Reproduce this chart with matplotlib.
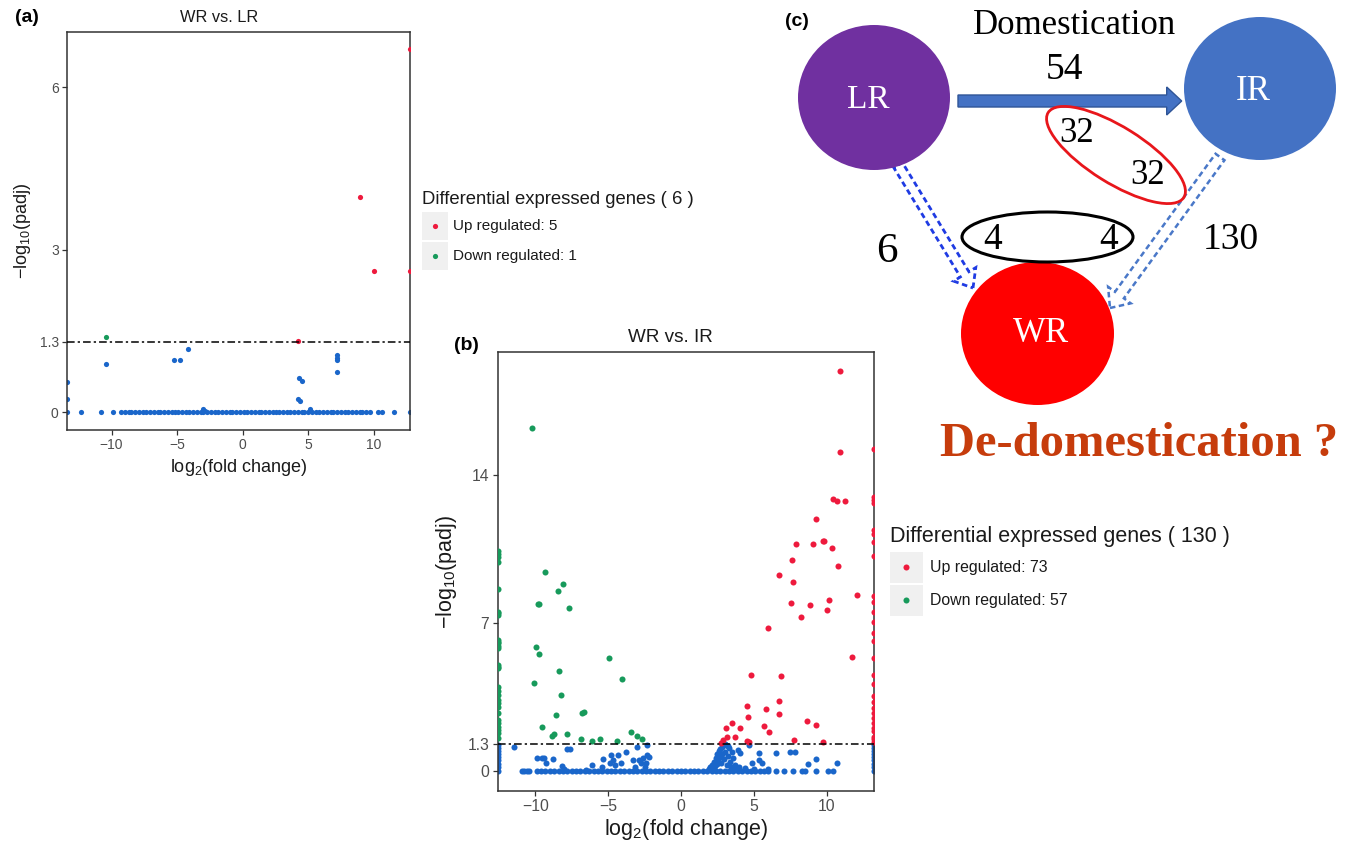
import matplotlib
matplotlib.use("Agg")
import matplotlib.pyplot as plt
from matplotlib.patches import Ellipse, FancyArrow, Rectangle

plt.rcParams['font.family'] = ['Liberation Sans', 'DejaVu Sans']
plt.rcParams['mathtext.fontset'] = 'custom'
plt.rcParams['mathtext.rm'] = 'Liberation Sans'
plt.rcParams['mathtext.it'] = 'Liberation Sans'
plt.rcParams['axes.unicode_minus'] = True

RED = '#EE1A3D'
GREEN = '#179A5B'
BLUE = '#1A66CA'
SERIF = ['Liberation Serif', 'DejaVu Serif']

# ---------------- (a) WR vs. LR ----------------
a_up_x = [12.75, 8.9, 10.0, 12.75, 4.2]
a_up_y = [6.71, 3.98, 2.61, 2.61, 1.32]
a_down_x = [-10.4]
a_down_y = [1.39]
a_ns_x = [-13.4, -13.4, -10.4, -5.25, -4.75, -4.2, -3.0, -2.9, 4.2, 4.35,
          4.3, 4.55, 5.1, 7.15, 7.15, 7.15, 7.15]
a_ns_y = [0.55, 0.24, 0.89, 0.96, 0.96, 1.17, 0.06, 0.03, 0.24, 0.21,
          0.63, 0.57, 0.06, 1.05, 1.0, 0.96, 0.74]
a_zero_x = [-13.4, -12.3, -10.8, -9.9, -9.3, -9.0, -8.7, -8.5, -8.2, -7.9,
            -7.6, -7.4, -7.1, -6.8, -6.5, -6.3, -6.0, -5.7, -5.4, -5.2,
            -4.9, -4.6, -4.3, -4.1, -3.8, -3.5, -3.2, -3.0, -2.7, -2.4,
            -2.1, -1.9, -1.6, -1.3, -1.0, -0.8, -0.5, -0.2, 0.1, 0.3,
            0.6, 0.9, 1.2, 1.4, 1.7, 2.0, 2.3, 2.5, 2.8, 3.1,
            3.4, 3.6, 3.9, 4.2, 4.5, 4.7, 5.0, 5.3, 5.6, 5.8,
            6.1, 6.4, 6.7, 6.9, 7.2, 7.5, 7.8, 8.0, 8.3, 8.6,
            8.9, 9.1, 9.4, 9.7, 10.28, 10.63, 11.55, 12.75]
a_yticks = [0, 1.3, 3, 6]
a_ylim = (-0.33, 7.02)

# ---------------- (b) WR vs. IR ----------------
b_up_x = [10.92, 10.92, 10.46, 10.73, 11.28, 9.24, 7.87, 9.08, 9.73, 9.82,
          10.37, 7.6, 10.76, 6.75, 7.71, 12.1, 10.18, 7.55, 8.88, 10.05,
          8.26, 5.95, 11.76, 4.81, 6.86, 6.73, 4.51, 5.81, 4.62, 6.7,
          5.72, 6.04, 3.52, 4.07, 3.11, 3.16, 2.91, 3.7, 4.51, 4.65,
          8.67, 9.27, 7.78, 9.77, 2.75,
          13.27, 13.27, 13.27, 13.27, 13.27, 13.27, 13.27, 13.27, 13.27, 13.27,
          13.27, 13.27, 13.27, 13.27, 13.27, 13.27, 13.27, 13.27, 13.27, 13.27,
          13.27, 13.27, 13.27, 13.27, 13.27, 13.27, 13.27, 13.27]
b_up_y = [18.9, 15.07, 12.83, 12.77, 12.74, 11.9, 10.71, 10.71, 10.88, 10.88,
          10.55, 9.95, 9.67, 9.26, 8.91, 8.3, 8.09, 7.94, 7.86, 7.62,
          7.28, 6.74, 5.4, 4.52, 4.47, 3.32, 3.06, 2.94, 2.57, 2.69,
          2.11, 1.84, 2.25, 2.05, 2.05, 1.59, 1.46, 1.59, 1.43, 1.37,
          2.38, 2.19, 1.46, 1.35, 1.34,
          15.22, 12.94, 12.81, 12.68, 11.36, 11.2, 10.8, 10.16, 8.28, 7.98,
          7.5, 7.02, 6.54, 6.14, 5.33, 4.53, 4.12, 3.56, 3.24, 3.0,
          2.76, 2.52, 2.28, 2.04, 1.88, 1.63, 1.52, 1.39]
b_down_x = [-10.25, -9.34, -8.08, -8.44, -9.84, -9.73, -7.69, -9.98, -9.73, -4.92,
            -8.4, -4.07, -10.07, -8.22, -8.58, -6.82, -6.64, -9.57, -8.72, -8.88,
            -7.83, -6.89, -6.11, -5.56, -3.46, -3.0, -2.68, -4.37,
            -12.58, -12.58, -12.58, -12.58, -12.58, -12.58, -12.58, -12.58, -12.58, -12.58,
            -12.58, -12.58, -12.58, -12.58, -12.58, -12.58, -12.58, -12.58, -12.58, -12.58,
            -12.58, -12.58, -12.58, -12.58, -12.58, -12.58, -12.58, -12.58, -12.58]
b_down_y = [16.22, 9.39, 8.82, 8.5, 7.89, 7.89, 7.72, 5.87, 5.51, 5.32,
            4.72, 4.33, 4.14, 3.59, 2.66, 2.72, 2.77, 2.06, 1.75, 1.65,
            1.75, 1.5, 1.42, 1.53, 1.86, 1.65, 1.5, 1.43,
            10.39, 10.24, 9.88, 8.58, 7.52, 7.37, 6.19, 6.03, 5.8, 5.0,
            4.85, 3.98, 3.59, 3.35, 3.04, 2.73, 2.25, 2.09, 1.78, 1.55,
            10.1, 7.45, 6.1, 5.9, 4.93, 3.8, 3.2, 2.4, 1.95]
b_ns_x = [-12.58, -12.58, -12.58, -12.58, -12.58, -12.58, -12.58, -12.58,
          -11.44, -9.91, -9.57, -9.4, -9.29, -8.81, -8.19, -7.85, -7.62, -6.13,
          -5.33, -4.83, -4.69, -4.3, -4.14, -3.8, -3.04, -2.91, -2.77, -2.63,
          -2.36, -2.31, -2.17, -2.4, -2.47, -4.87, -4.53, -3.27, -3.16, -5.45,
          -8.0, -6.5,
          1.9, 2.0, 2.1, 2.2, 2.3, 2.35, 2.4, 2.45, 2.5, 2.55,
          2.6, 2.65, 2.7, 2.75, 2.8, 2.85, 2.9, 2.95, 3.0, 3.05,
          3.1, 3.15, 3.2, 3.25, 3.3, 3.35, 3.4, 3.5, 3.6, 3.7,
          3.8, 3.93, 4.05, 4.69, 5.35, 5.37, 5.53, 4.85, 6.5, 7.46,
          7.85, 8.72, 9.29, 10.7, 4.0, 4.4, 5.0, 6.0,
          13.27, 13.27, 13.27, 13.27, 13.27, 13.27, 13.27, 13.27]
b_ns_y = [1.25, 1.1, 0.95, 0.8, 0.65, 0.5, 0.35, 0.2,
          1.12, 0.6, 0.6, 0.6, 0.36, 0.57, 0.24, 1.04, 1.04, 0.28,
          0.57, 0.76, 0.52, 0.76, 0.36, 0.91, 1.12, 0.52, 0.36, 0.6,
          1.23, 0.76, 0.68, 0.39, 0.2, 0.36, 0.28, 0.52, 0.2, 0.2,
          0.1, 0.05,
          0.1, 0.2, 0.3, 0.15, 0.45, 0.25, 0.6, 0.35, 0.8, 0.5,
          0.95, 0.65, 1.05, 0.4, 1.15, 0.8, 1.22, 0.55, 1.28, 0.9,
          1.25, 0.3, 1.2, 0.7, 1.1, 0.45, 0.2, 0.9, 0.6, 0.3,
          0.15, 0.99, 0.87, 1.23, 0.87, 0.52, 0.36, 0.36, 0.87, 0.91,
          0.91, 0.33, 0.55, 0.36, 0.2, 0.15, 0.1, 0.1,
          1.25, 1.1, 0.95, 0.8, 0.65, 0.5, 0.35, 0.2]
b_zero_x = [-12.58, -10.94, -10.78, -10.6, -10.41, -9.9, -9.6, -9.3, -9.0, -8.7,
            -8.4, -8.1, -7.8, -7.5, -7.2, -6.9, -6.6, -6.3, -6.0, -5.7,
            -5.4, -5.1, -4.8, -4.5, -4.2, -3.9, -3.6, -3.3, -3.0, -2.7,
            -2.4, -2.1, -1.8, -1.5, -1.2, -0.9, -0.6, -0.3, 0.0, 0.3,
            0.6, 0.9, 1.2, 1.5, 1.8, 2.1, 2.4, 2.7, 3.0, 3.3,
            3.6, 3.9, 4.2, 4.5, 4.8, 5.1, 5.4, 5.7, 6.0, 6.5,
            7.07, 7.71, 8.28, 8.51, 9.26, 10.1, 10.45, 13.27]
b_yticks = [0, 1.3, 7, 14]
b_ylim = (-0.94, 19.8)

xticks = [-10, -5, 0, 5, 10]
threshold = 1.3

W, H = 1356, 846
fig = plt.figure(figsize=(W / 100, H / 100), dpi=100)
fig.patch.set_facecolor('white')


def px_box(left, top, right, bottom):
    return [left / W, 1 - bottom / H, (right - left) / W, (bottom - top) / H]


def volcano(ax, up, down, ns, zero_x, ylim, yticks, size, tick_fs, lab_fs, ypad, xpad):
    all_x = up[0] + down[0] + ns[0] + zero_x
    ax.scatter(zero_x, [0] * len(zero_x), s=size, c=BLUE, lw=0, zorder=2)
    ax.scatter(ns[0], ns[1], s=size, c=BLUE, lw=0, zorder=2)
    ax.scatter(down[0], down[1], s=size, c=GREEN, lw=0, zorder=3)
    ax.scatter(up[0], up[1], s=size, c=RED, lw=0, zorder=3)
    ax.axhline(threshold, color='black', lw=1.1, ls=(0, (5, 2, 1.5, 2)), zorder=4)
    ax.set_xlim(min(all_x), max(all_x))
    ax.set_ylim(*ylim)
    ax.set_xticks(xticks)
    ax.set_yticks(yticks)
    ax.set_yticklabels([f'{t:g}' for t in yticks])
    for s in ax.spines.values():
        s.set_color('#333333')
        s.set_linewidth(1.1)
    ax.tick_params(colors='#333333', labelcolor='#4D4D4D', length=3.5, width=0.9,
                   labelsize=tick_fs, pad=2.5)
    ax.set_xlabel('log$_2$(fold change)', fontsize=lab_fs, color='#1A1A1A', labelpad=xpad)
    ax.set_ylabel('\u2212log$_{10}$(padj)', fontsize=lab_fs, color='#1A1A1A', labelpad=ypad)


ax_a = fig.add_axes(px_box(67, 32, 410, 430))
volcano(ax_a, (a_up_x, a_up_y), (a_down_x, a_down_y), (a_ns_x, a_ns_y), a_zero_x,
        a_ylim, a_yticks, 14, 10, 13, 5, 3)

ax_b = fig.add_axes(px_box(497.7, 351.7, 874.3, 791))
volcano(ax_b, (b_up_x, b_up_y), (b_down_x, b_down_y), (b_ns_x, b_ns_y), b_zero_x,
        b_ylim, b_yticks, 19, 11.3, 15.5, 6, 2)

# overlay in pixel units for titles, legends and the diagram
ov = fig.add_axes([0, 0, 1, 1])
ov.set_xlim(0, W)
ov.set_ylim(H, 0)
ov.axis('off')

ov.text(27, 17, '(a)', fontsize=14, fontweight='bold', ha='center', va='center')
ov.text(466, 346, '(b)', fontsize=14, fontweight='bold', ha='center', va='center')
ov.text(797, 22, '(c)', fontsize=14, fontweight='bold', ha='center', va='center')
ov.text(219, 17, 'WR vs. LR', fontsize=11.8, color='#1A1A1A', ha='center', va='center')
ov.text(670, 337, 'WR vs. IR', fontsize=13.6, color='#1A1A1A', ha='center', va='center')


def legend(x0, y_title, box_w, box_h, y0, gap, total, n_up, n_down, tsize, lsize, dot, lab_dx):
    ov.text(x0, y_title, f'Differential expressed genes ( {total} )', fontsize=tsize,
            color='#1A1A1A', ha='left', va='center')
    items = [(f'Up regulated: {n_up}', RED), (f'Down regulated: {n_down}', GREEN)]
    for i, (lab, col) in enumerate(items):
        y = y0 + i * (box_h + gap)
        ov.add_patch(Rectangle((x0, y), box_w, box_h, fc='#F0F0F0', ec='none'))
        ov.scatter([x0 + box_w / 2], [y + box_h / 2], s=dot, c=col, lw=0)
        ov.text(x0 + box_w + lab_dx, y + box_h / 2, lab, fontsize=lsize,
                color='#1A1A1A', ha='left', va='center')


legend(421.7, 200, 26.6, 28.3, 211.7, 1.7, len(a_up_x) + len(a_down_x),
       len(a_up_x), len(a_down_x), 13.3, 11, 14, 4.5)
legend(890, 536.7, 32.7, 31, 551.7, 2.3, len(b_up_x) + len(b_down_x),
       len(b_up_x), len(b_down_x), 15.5, 11.4, 19, 7.3)

# ---------------- (c) diagram ----------------
ov.add_patch(FancyArrow(898, 165, 75, 123, width=10, head_width=26, head_length=16,
                        length_includes_head=True, fill=False, ec='#1F3BE3', lw=2.0,
                        ls=(0, (2, 1.3)), zorder=2))
ov.add_patch(FancyArrow(1220, 157, -110, 151, width=11, head_width=28, head_length=16,
                        length_includes_head=True, fill=False, ec='#4A78C8', lw=1.8,
                        ls=(0, (2.2, 1.4)), zorder=2))
ov.add_patch(Ellipse((874, 97.5), 152, 145, fc='#7030A0', ec='none', zorder=3))
ov.add_patch(Ellipse((1260, 88.5), 152, 143, fc='#4472C4', ec='none', zorder=3))
ov.add_patch(Ellipse((1037.5, 333.5), 153, 143, fc='#FF0000', ec='none', zorder=3))
ov.add_patch(FancyArrow(958, 101, 223.7, 0, width=12, head_width=28, head_length=15,
                        length_includes_head=True, fc='#4472C4', ec='#2F5597', lw=1,
                        zorder=3))
ov.add_patch(Ellipse((1116, 155), 160, 56, angle=32, fill=False, ec='#E8161B', lw=2,
                     zorder=4))
ov.add_patch(Ellipse((1047.5, 237), 171, 50, fill=False, ec='black', lw=2.2, zorder=4))

ov.text(1074, 25, 'Domestication', family=SERIF, fontsize=25, ha='center', va='center')
ov.text(1064, 70, '54', family=SERIF, fontsize=27, ha='center', va='center')
ov.text(868, 100, 'LR', family=SERIF, fontsize=24, color='white', ha='center', va='center', zorder=5)
ov.text(1253, 92, 'IR', family=SERIF, fontsize=25, color='white', ha='center', va='center', zorder=5)
ov.text(1041, 333, 'WR', family=SERIF, fontsize=25, color='white', ha='center', va='center', zorder=5)
ov.text(1077, 133, '32', family=SERIF, fontsize=25, ha='center', va='center', zorder=5)
ov.text(1148, 175, '32', family=SERIF, fontsize=25, ha='center', va='center', zorder=5)
ov.text(993, 240, '4', family=SERIF, fontsize=27, ha='center', va='center', zorder=5)
ov.text(1109, 240, '4', family=SERIF, fontsize=27, ha='center', va='center', zorder=5)
ov.text(887, 252, '6', family=SERIF, fontsize=31, ha='center', va='center', zorder=5)
ov.text(1231, 240, '130', family=SERIF, fontsize=27, ha='center', va='center', zorder=5)
ov.text(1139, 444, 'De-domestication ?', family=SERIF, fontsize=35, fontweight='bold',
        color='#C63C0C', ha='center', va='center', zorder=5)

fig.savefig('out.png', dpi=100, facecolor='white')
